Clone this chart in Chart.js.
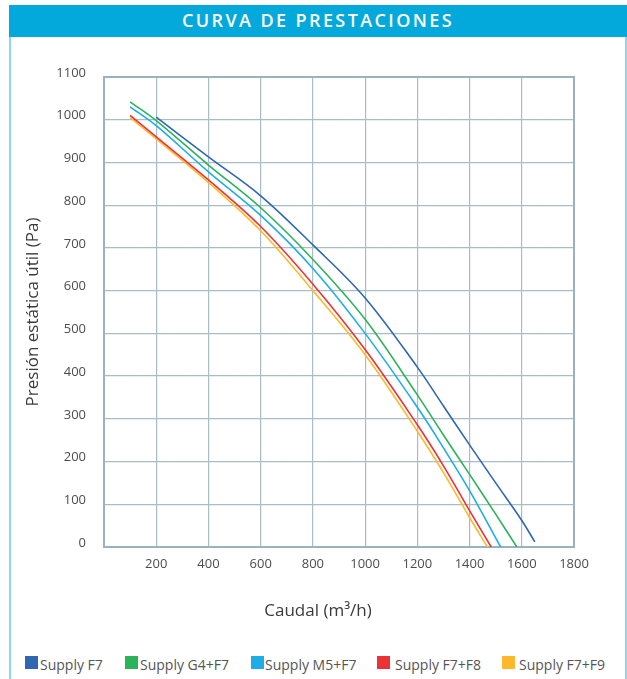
<!DOCTYPE html>
<html>
<head>
<meta charset="utf-8">
<script src="https://cdn.jsdelivr.net/npm/chart.js@4"></script>
<style>
html,body{margin:0;padding:0;background:#fff;}
body{width:627px;height:679px;position:relative;overflow:hidden;font-family:"Open Sans",sans-serif;}
#frameL{position:absolute;left:9px;top:37px;width:2px;height:642px;background:#8dd5f1;}
#frameR{position:absolute;left:625px;top:37px;width:2px;height:642px;background:#8dd5f1;}
#header{position:absolute;left:9px;top:5px;width:618px;height:32px;background:#03a9db;color:#fff;font-size:18px;font-weight:600;text-align:center;line-height:30px;letter-spacing:2.4px;}
#wrap{position:absolute;left:12px;top:40px;width:610px;height:590px;}
#xtitle{position:absolute;left:198px;width:240px;top:600px;text-align:center;font-size:17px;line-height:20px;color:#3a3a3a;white-space:nowrap;}
.legbox{position:absolute;top:656px;width:13px;height:13px;}
.legtxt{position:absolute;top:657px;font-size:14px;line-height:16px;color:#555;white-space:nowrap;}
</style>
</head>
<body>
<div id="header">CURVA DE PRESTACIONES</div>
<div id="frameL"></div>
<div id="frameR"></div>
<div id="wrap"><canvas id="c" width="610" height="590"></canvas></div>
<div id="xtitle">Caudal (m³/h)</div>
<div id="legend"></div>
<script>
// ---- data ----
const seriesLabels = ['Supply F7', 'Supply G4+F7', 'Supply M5+F7', 'Supply F7+F8', 'Supply F7+F9'];

const xF7   = [200, 400, 600, 800, 1000, 1200, 1300, 1400, 1500, 1600, 1650];
const yF7   = [1006, 913, 822, 707, 583, 421, 330, 239, 150, 62, 12];

const xG4F7 = [100, 200, 400, 600, 800, 1000, 1200, 1300, 1400, 1500, 1581];
const yG4F7 = [1042, 998, 894, 794, 673, 533, 356, 262, 170, 77, 0];

const xM5F7 = [100, 200, 400, 600, 800, 1000, 1200, 1300, 1400, 1519];
const yM5F7 = [1030, 986, 878, 776, 652, 500, 327, 232, 132, 0];

const xF7F8 = [100, 200, 400, 600, 800, 1000, 1200, 1300, 1400, 1483];
const yF7F8 = [1010, 960, 859, 750, 615, 462, 286, 190, 85, 0];

const xF7F9 = [100, 200, 400, 600, 800, 1000, 1200, 1300, 1400, 1468];
const yF7F9 = [1005, 955, 853, 740, 600, 450, 271, 174, 69, 0];

const xTicks = [0, 200, 400, 600, 800, 1000, 1200, 1400, 1600, 1800];
const xTickLabels = ['', '200', '400', '600', '800', '1000', '1200', '1400', '1600', '1800'];
const yTicks = [0, 100, 200, 300, 400, 500, 600, 700, 800, 900, 1000, 1100];
const yTickLabels = ['0', '100', '200', '300', '400', '500', '600', '700', '800', '900', '1000', '1100'];

const yTitle = 'Presión estática útil (Pa)';

// ---- styles ----
const seriesColors = ['#2f67b1', '#2db25c', '#1eaee5', '#ec3237', '#fdb92b'];
const legendBoxLeft = [25, 125, 251, 377, 502];
const legendTextLeft = [40, 140, 265, 395, 519];

const seriesX = [xF7, xG4F7, xM5F7, xF7F8, xF7F9];
const seriesY = [yF7, yG4F7, yM5F7, yF7F8, yF7F9];

const datasets = seriesLabels.map((label, i) => ({
  label: label,
  data: seriesX[i].map((x, j) => ({ x: x, y: seriesY[i][j] })),
  borderColor: seriesColors[i],
  backgroundColor: seriesColors[i],
  borderWidth: 1.6,
  pointRadius: 0,
  fill: false,
  tension: 0.35
}));

// legend (HTML)
const leg = document.getElementById('legend');
seriesLabels.forEach((label, i) => {
  const b = document.createElement('div');
  b.className = 'legbox';
  b.style.left = legendBoxLeft[i] + 'px';
  b.style.background = seriesColors[i];
  leg.appendChild(b);
  const t = document.createElement('div');
  t.className = 'legtxt';
  t.style.left = legendTextLeft[i] + 'px';
  t.textContent = label;
  leg.appendChild(t);
});

const framePlugin = {
  id: 'frame',
  beforeDatasetsDraw(chart) {
    const { ctx, chartArea: a } = chart;
    ctx.save();
    ctx.strokeStyle = '#9ab1bf';
    ctx.lineWidth = 2;
    ctx.strokeRect(a.left, a.top, a.right - a.left, a.bottom - a.top);
    ctx.restore();
  }
};

const tickFont = { family: '"Open Sans", sans-serif', size: 13 };

new Chart(document.getElementById('c'), {
  type: 'line',
  data: { datasets: datasets },
  plugins: [framePlugin],
  options: {
    responsive: false,
    animation: false,
    devicePixelRatio: 1,
    layout: { padding: { top: 37, right: 48, left: 0, bottom: 0 } },
    plugins: { legend: { display: false }, tooltip: { enabled: false }, title: { display: false } },
    scales: {
      x: {
        type: 'linear',
        min: 0, max: 1800,
        afterBuildTicks: (s) => { s.ticks = xTicks.map(v => ({ value: v })); },
        afterFit: (s) => { s.height = 83; },
        grid: { color: '#a9bdc8', lineWidth: 1.2, drawTicks: false },
        border: { display: false },
        ticks: {
          font: tickFont, color: '#4d4d4d', padding: 9, maxRotation: 0, autoSkip: false,
          callback: (v) => xTickLabels[xTicks.indexOf(v)]
        }
      },
      y: {
        type: 'linear',
        min: 0, max: 1100,
        afterBuildTicks: (s) => { s.ticks = yTicks.map(v => ({ value: v })); },
        afterFit: (s) => { s.width = 92; },
        grid: { color: '#a9bdc8', lineWidth: 1.2, drawTicks: false },
        border: { display: false },
        ticks: {
          font: tickFont, color: '#4d4d4d', padding: 18, labelOffset: -4, autoSkip: false,
          callback: (v) => yTickLabels[yTicks.indexOf(v)]
        },
        title: {
          display: true, text: yTitle, color: '#3a3a3a',
          font: { family: '"Open Sans", sans-serif', size: 17 },
          padding: { top: 11, bottom: 0 }
        }
      }
    }
  }
});
</script>
</body>
</html>
